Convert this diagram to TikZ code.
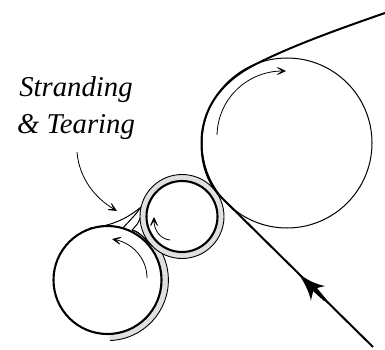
\documentclass[tikz,border=0pt]{standalone}
\usepackage{fontspec}
\setmainfont{Liberation Serif}
\usetikzlibrary{arrows.meta,calc}
\tikzset{
 px/.style={x=1pt,y=-1pt},
 web/.style={line width=2pt,line join=round},
 roller/.style={line width=2.1pt,fill=white},
 thin roller/.style={line width=1pt},
 band/.style={fill=black!12,draw=black,line width=.9pt},
 strand/.style={line width=1pt},
 turn/.style={line width=.8pt,-{Stealth[length=13pt,width=12pt,inset=9pt]}},
 lbl/.style={font=\itshape\fontsize{28.7}{34}\selectfont,inner sep=0pt,anchor=base},
}
\begin{document}
\begin{tikzpicture}[px]
\useasboundingbox (0,0) rectangle (385,350);
\coordinate (B) at (287,143);
\coordinate (M) at (182,216.5);
\coordinate (L) at (107.5,280);
% grey coating band on lower roller
\fill[black!12] (L) -- ++(88:60.5) arc[start angle=88,end angle=-45,radius=60.5] -- cycle;
\draw[line width=.9pt] (110,340.5) arc[start angle=88,end angle=-38,radius=60.5];
% strands
\fill[black!12] (143,229) -- (158,250) -- (170,250) -- (150,225) -- cycle;
\draw[strand] (90,228) .. controls (112,226) and (128,218) .. (141,207);
\draw[strand] (123,228) .. controls (128,222) and (135,216) .. (141,207);
\draw[strand] (132,230) .. controls (136,226) and (140,222) .. (141,214);
\draw[strand] (132,230) .. controls (140,232) and (146,240) .. (152,246);
% middle roller with coating
\draw[band] (M) circle[radius=42];
\draw[roller] (M) circle[radius=35.5];
% lower roller
\draw[roller] (L) circle[radius=54];
\draw[strand] (132,230) .. controls (140,232) and (146,240) .. (152,246);
% big roller
\draw[thin roller] (B) circle[radius=85];
% web
\coordinate (webin) at (373,347);
\coordinate (webout) at (385,13);
\draw[web] (webin) -- (222,198)
  .. controls (208,184) and (201.5,165) .. (201.5,143)
  .. controls (201.5,108) and (222,81) .. (256,64)
  .. controls (290,47) and (330,32) .. (webout);
% web arrowhead
\fill (298,273) .. controls (307,280) and (315,284) .. (325,286)
  -- (317,288) -- (326,299) -- (324,301) -- (313,291)
  .. controls (313,294) and (311,298) .. (311,301)
  .. controls (309,291) and (304,282) .. cycle;
% rotation arrows
\coordinate (a1) at (217,135);
\coordinate (a2) at (286,71);
\draw[turn] (a1) .. controls (218,98) and (248,71) .. (a2);
\coordinate (b1) at (147,278);
\coordinate (b2) at (112,239);
\draw[turn] (b1) .. controls (147,258) and (132,243) .. (b2);
\coordinate (c1) at (170,240);
\coordinate (c2) at (154,217);
\draw[turn] (c1) .. controls (160,239) and (154,230) .. (c2);
% label
\node[lbl] (t1) at (76,97) {Stranding};
\node[lbl] (t2) at (76,133) {\& Tearing};
\coordinate (d1) at (77,152);
\coordinate (d2) at (117,211);
\draw[turn] (d1) .. controls (79,178) and (95,198) .. (d2);
\end{tikzpicture}
\end{document}
